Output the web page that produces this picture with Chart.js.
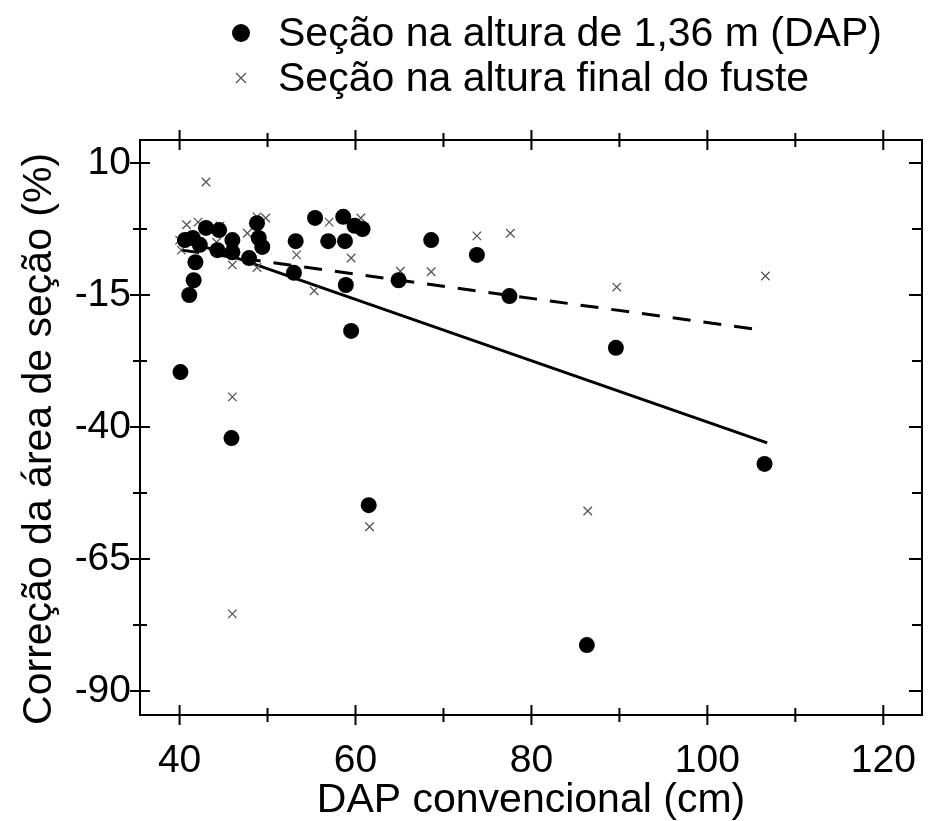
<!DOCTYPE html>
<html>
<head>
<meta charset="utf-8">
<script src="https://cdn.jsdelivr.net/npm/chart.js@4.4.1/dist/chart.umd.min.js"></script>
<style>
  html, body { margin: 0; padding: 0; background: #fff; }
</style>
</head>
<body>
<canvas id="myChart" width="930" height="821"></canvas>
<script>
// Seção na altura de 1,36 m (DAP) - filled circles
var dapX = [40.1, 40.6, 41.5, 42.3, 43.0, 44.5, 44.3, 46.0, 46.0, 47.9, 48.8, 49.0, 49.4,
            41.8, 41.6, 41.1, 45.9, 53.0, 53.2, 55.4, 56.9, 58.6, 58.8, 58.9, 59.5, 59.9,
            60.8, 61.5, 64.9, 68.6, 73.8, 77.5, 86.3, 89.6, 106.5];
var dapY = [-29.6, -4.6, -4.2, -5.5, -2.3, -2.7, -6.5, -4.6, -6.9, -8.0, -1.4, -4.2, -5.9,
            -8.8, -12.2, -15.0, -42.1, -10.8, -4.8, -0.4, -4.8, -0.2, -4.8, -13.1, -21.8, -1.9,
            -2.5, -54.8, -12.2, -4.6, -7.4, -15.2, -81.3, -25.0, -47.0];

// Seção na altura final do fuste - crosses
var fusteX = [40.0, 40.2, 40.8, 42.1, 43.0, 44.2, 44.6, 46.0, 46.0, 46.0, 47.7, 48.8, 48.8,
              49.8, 53.3, 55.3, 57.0, 59.5, 60.6, 61.6, 65.1, 68.6, 73.8, 77.6, 86.4, 89.7, 106.6];
var fusteY = [-4.6, -6.5, -1.7, -1.2, 6.4, -5.0, -1.9, -9.3, -34.3, -75.4, -3.3, -0.2, -9.8,
              -0.4, -7.4, -14.2, -1.2, -8.0, -0.4, -58.9, -10.5, -10.6, -3.8, -3.3, -55.9, -13.5, -11.4];

// fitted lines (end points)
var fitDapX = [40.5, 106.8];
var fitDapY = [-4.5, -43.0];
var fitFusteX = [40.2, 105.1];
var fitFusteY = [-6.5, -21.4];

var legendLabels = ['Seção na altura de 1,36 m (DAP)', 'Seção na altura final do fuste'];
var xTitle = 'DAP convencional (cm)';
var yTitle = 'Correção da área de seção (%)';

var xTicks = [40, 50, 60, 70, 80, 90, 100, 110, 120];
var xLabels = [40, 60, 80, 100, 120];
var yTicks = [10, -2.5, -15, -27.5, -40, -52.5, -65, -77.5, -90];
var yLabels = [10, -15, -40, -65, -90];

var FONT = '"Liberation Sans", Arial, sans-serif';

function toPoints(xs, ys) {
    var pts = [];
    for (var i = 0; i < xs.length; i++) {
        pts.push({x: xs[i], y: ys[i]});
    }
    return pts;
}

// box round the plot with ticks crossing the frame
var framePlugin = {
    id: 'frame',
    afterDatasetsDraw: function (chart) {
        var ctx = chart.ctx;
        var a = chart.chartArea;
        var xs = chart.scales.x, ys = chart.scales.y;
        ctx.save();
        ctx.strokeStyle = '#000';
        ctx.lineWidth = 2;
        ctx.strokeRect(a.left, a.top, a.right - a.left, a.bottom - a.top);
        ctx.beginPath();
        xTicks.forEach(function (v) {
            var px = xs.getPixelForValue(v);
            var len = xLabels.indexOf(v) >= 0 ? 10 : 7;
            ctx.moveTo(px, a.bottom - len); ctx.lineTo(px, a.bottom + len);
            ctx.moveTo(px, a.top - len); ctx.lineTo(px, a.top + len);
        });
        yTicks.forEach(function (v) {
            var py = ys.getPixelForValue(v);
            var len = yLabels.indexOf(v) >= 0 ? 10 : 7;
            ctx.moveTo(a.left - len, py); ctx.lineTo(a.left + len, py);
            ctx.moveTo(a.right - len - 3, py); ctx.lineTo(a.right, py);
        });
        ctx.stroke();
        ctx.restore();
    }
};

// two-row legend at the top
var legendPlugin = {
    id: 'legendRows',
    afterDraw: function (chart) {
        var ctx = chart.ctx;
        ctx.save();
        ctx.font = '41px ' + FONT;
        ctx.textBaseline = 'middle';
        for (var i = 0; i < 2; i++) {
            var ds = chart.data.datasets[i];
            var y = 33 + i * 45;
            ctx.fillStyle = ds.backgroundColor;
            ctx.strokeStyle = ds.borderColor;
            ctx.lineWidth = ds.borderWidth;
            Chart.helpers.drawPoint(ctx, {
                pointStyle: ds.pointStyle,
                radius: i === 0 ? 9 : 7,
                borderWidth: ds.borderWidth
            }, 241, y);
            ctx.fillStyle = '#000';
            ctx.fillText(ds.label, 278, y + 2);
        }
        ctx.restore();
    }
};

var ctx = document.getElementById('myChart').getContext('2d');
var myChart = new Chart(ctx, {
    type: 'scatter',
    data: {
        datasets: [{
            label: legendLabels[0],
            data: toPoints(dapX, dapY),
            pointStyle: 'circle',
            pointRadius: 8,
            backgroundColor: '#000',
            borderColor: '#000',
            borderWidth: 0
        }, {
            label: legendLabels[1],
            data: toPoints(fusteX, fusteY),
            pointStyle: 'crossRot',
            pointRadius: 6,
            backgroundColor: '#555',
            borderColor: '#555',
            borderWidth: 1.3
        }, {
            type: 'line',
            label: 'fit DAP',
            data: toPoints(fitDapX, fitDapY),
            borderColor: '#000',
            borderWidth: 3,
            pointRadius: 0,
            fill: false
        }, {
            type: 'line',
            label: 'fit fuste',
            data: toPoints(fitFusteX, fitFusteY),
            borderColor: '#000',
            borderWidth: 3,
            borderDash: [18, 13],
            pointRadius: 0,
            fill: false
        }]
    },
    options: {
        responsive: false,
        animation: false,
        layout: { padding: { top: 140, right: 2, left: 0, bottom: 0 } },
        plugins: {
            legend: { display: false },
            tooltip: { enabled: false }
        },
        scales: {
            x: {
                type: 'linear',
                min: 35.5,
                max: 124.4,
                afterBuildTicks: function (scale) {
                    scale.ticks = xTicks.map(function (v) { return {value: v}; });
                },
                afterFit: function (scale) { scale.height = 106; },
                // invisible tick marks only push the labels down
                grid: { display: true, drawOnChartArea: false, color: 'rgba(0,0,0,0)', tickLength: 20 },
                border: { display: false },
                ticks: {
                    padding: 3,
                    color: '#000',
                    font: { family: FONT, size: 39 },
                    maxRotation: 0,
                    autoSkip: false,
                    callback: function (v) { return xLabels.indexOf(v) >= 0 ? String(v) : ''; }
                },
                title: {
                    display: true,
                    text: xTitle,
                    color: '#000',
                    font: { family: FONT, size: 41, lineHeight: 1.0 },
                    padding: { top: 0, bottom: 0 }
                }
            },
            y: {
                type: 'linear',
                min: -94.55,
                max: 14.36,
                afterBuildTicks: function (scale) {
                    scale.ticks = yTicks.map(function (v) { return {value: v}; });
                },
                afterFit: function (scale) { scale.width = 140; },
                grid: { display: false, drawTicks: false },
                border: { display: false },
                ticks: {
                    padding: 9,
                    color: '#000',
                    font: { family: FONT, size: 39 },
                    autoSkip: false,
                    callback: function (v) { return yLabels.indexOf(v) >= 0 ? String(v) : ''; }
                },
                title: {
                    display: true,
                    // trailing no-break spaces nudge the rotated title a little lower
                    text: yTitle + '\u00a0\u00a0',
                    color: '#000',
                    font: { family: FONT, size: 41, lineHeight: 1.2 },
                    padding: { top: 15, bottom: 0 }
                }
            }
        }
    },
    plugins: [framePlugin, legendPlugin]
});
</script>
</body>
</html>
